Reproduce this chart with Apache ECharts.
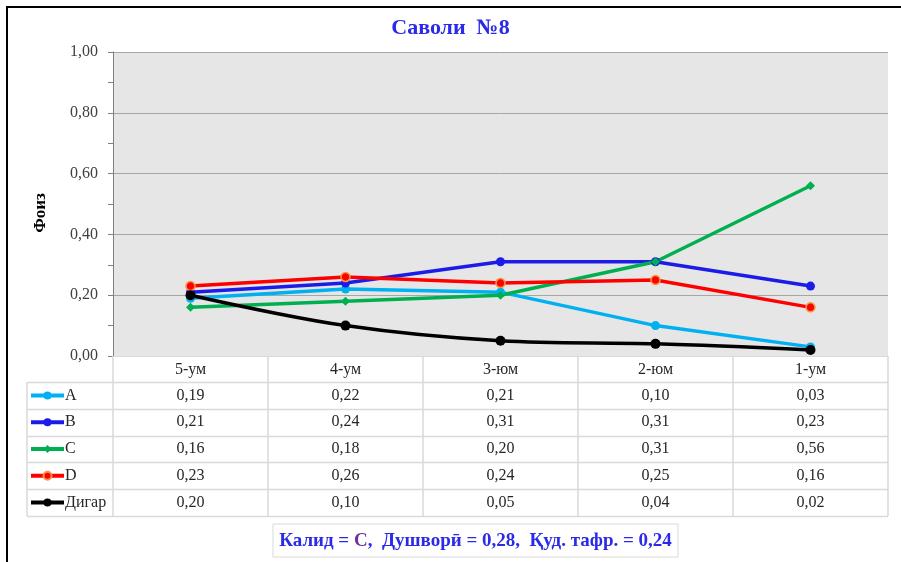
<!DOCTYPE html>
<html lang="tg">
<head>
<meta charset="UTF-8" />
<title>Саволи №8</title>
<style>
  * { margin: 0; padding: 0; box-sizing: border-box; }
  html, body { background: #fff; }
  #chart { width: 901px; height: 562px; }
</style>
</head>
<body>
<div id="chart"></div>
<script src="https://cdn.jsdelivr.net/npm/echarts@6/dist/echarts.min.js"></script>
<script>
// данные
var categories = ['5-ум', '4-ум', '3-юм', '2-юм', '1-ум'];
var seriesNames = ['A', 'B', 'C', 'D', 'Дигар'];
var valuesA = [0.19, 0.22, 0.21, 0.10, 0.03];
var valuesB = [0.21, 0.24, 0.31, 0.31, 0.23];
var valuesC = [0.16, 0.18, 0.20, 0.31, 0.56];
var valuesD = [0.23, 0.26, 0.24, 0.25, 0.16];
var valuesOther = [0.20, 0.10, 0.05, 0.04, 0.02];
var yTicks = [0, 0.2, 0.4, 0.6, 0.8, 1.0];
var keyAnswer = 'C';
var difficulty = 0.28;
var discrimination = 0.24;

var allValues = [valuesA, valuesB, valuesC, valuesD, valuesOther];
var colors = ['#00b0f0', '#1c1ce8', '#00b050', '#ff0000', '#000000'];
var symbols = ['circle', 'circle', 'diamond', 'circle', 'circle'];
var font = '"Liberation Serif", "DejaVu Serif", serif';
var blue = '#2a2ae8';

function fmt(v) {
  return v.toFixed(2).replace('.', ',');
}

var plotLeft = 113, plotRight = 888, plotTop = 52, plotBottom = 356;
var rowH = 26.8;
var headRow = 382; // верх первой строки таблицы
var tableLeft = 27;

var chart = echarts.init(document.getElementById('chart'));

var series = seriesNames.map(function (name, i) {
  var s = {
    name: name,
    type: 'line',
    data: allValues[i],
    symbol: symbols[i],
    symbolSize: i === 4 ? 10 : (i === 2 ? 9 : 9),
    lineStyle: { color: colors[i], width: 3.5 },
    itemStyle: { color: colors[i] },
    emphasis: { disabled: true },
    animation: false
  };
  if (i === 3) {
    s.itemStyle = { color: '#ff0000', borderColor: '#f79646', borderWidth: 1.5 };
  }
  if (i === 4) s.smooth = 0.35;
  return s;
});

var legends = seriesNames.map(function (name, i) {
  return {
    data: [name],
    orient: 'vertical',
    left: 29,
    top: headRow + i * rowH + rowH / 2 - 8,
    padding: 0,
    itemWidth: 33,
    itemHeight: 10,
    itemGap: 2,
    selectedMode: false,
    lineStyle: { width: 4 },
    textStyle: { fontFamily: font, fontSize: 16, color: '#262626', padding: [0, 0, 0, -4] }
  };
});

chart.setOption({
  animation: false,
  title: {
    text: 'Саволи  №8',
    left: 'center',
    top: 12,
    textStyle: { fontFamily: font, fontSize: 22, fontWeight: 'bold', color: blue }
  },
  legend: legends,
  grid: {
    left: plotLeft,
    right: 901 - plotRight,
    top: plotTop,
    bottom: 562 - plotBottom,
    show: true,
    backgroundColor: '#e6e6e6',
    borderWidth: 0
  },
  xAxis: {
    type: 'category',
    data: categories,
    boundaryGap: true,
    axisLine: { show: true, lineStyle: { color: '#d9d9d9', width: 1 } },
    axisTick: { show: true, length: headRow + rowH * 5 - plotBottom, lineStyle: { color: '#d9d9d9', width: 1.5 } },
    axisLabel: { margin: 6, fontFamily: font, fontSize: 16, color: '#262626' }
  },
  yAxis: {
    type: 'value',
    min: yTicks[0],
    max: yTicks[yTicks.length - 1],
    interval: 0.2,
    axisLine: { show: true, lineStyle: { color: '#7f7f7f', width: 1 } },
    axisTick: { show: true, length: 5, lineStyle: { color: '#7f7f7f' } },
    minorTick: { show: true, splitNumber: 2, length: 5, lineStyle: { color: '#7f7f7f' } },
    splitLine: { show: true, lineStyle: { color: '#a6a6a6', width: 1 } },
    axisLabel: {
      margin: 15,
      fontFamily: font,
      fontSize: 16,
      color: '#404040',
      formatter: function (v) { return fmt(v); }
    }
  },
  series: series
});

// таблица данных под графиком
var g = [];
g.push({
  type: 'rect',
  shape: { x: 7, y: 7, width: 1000, height: 1000 },
  style: { fill: 'none', stroke: '#000', lineWidth: 2 },
  silent: true
});
for (var r = 0; r <= seriesNames.length; r++) {
  var y = Math.round(headRow + r * rowH) + 0.5;
  g.push({
    type: 'line',
    shape: { x1: tableLeft, y1: y, x2: plotRight, y2: y },
    style: { stroke: '#d9d9d9', lineWidth: 1.5 },
    silent: true
  });
}
g.push({
  type: 'line',
  shape: { x1: tableLeft, y1: headRow, x2: tableLeft, y2: headRow + rowH * 5 },
  style: { stroke: '#d9d9d9', lineWidth: 1.5 },
  silent: true
});
allValues.forEach(function (vals, i) {
  vals.forEach(function (v, j) {
    var x = chart.convertToPixel({ xAxisIndex: 0 }, categories[j]);
    g.push({
      type: 'text',
      x: x,
      y: headRow + i * rowH + rowH / 2,
      style: {
        text: fmt(v),
        fontFamily: font,
        fontSize: 16,
        fill: '#262626',
        align: 'center',
        verticalAlign: 'middle'
      },
      silent: true
    });
  });
});
// подпись оси
g.push({
  type: 'text',
  x: 41,
  y: 213,
  rotation: Math.PI / 2,
  style: {
    text: 'Фоиз',
    fontFamily: font,
    fontSize: 17,
    fontWeight: 'bold',
    fill: '#000',
    align: 'center',
    verticalAlign: 'middle'
  },
  silent: true
});
// итоговая строка
g.push({
  type: 'rect',
  shape: { x: 273, y: 524, width: 405, height: 33 },
  style: { fill: '#fff', stroke: '#d9d9d9', lineWidth: 1 },
  silent: true
});
g.push({
  type: 'text',
  x: 475.5,
  y: 541,
  style: {
    text: '{b|Калид = }{p|' + keyAnswer + '}{b|,  Душворӣ = ' + fmt(difficulty) + ',  Қуд. тафр. = ' + fmt(discrimination) + '}',
    align: 'center',
    verticalAlign: 'middle',
    rich: {
      b: { fontFamily: font, fontSize: 19, fontWeight: 'bold', fill: blue, color: blue },
      p: { fontFamily: font, fontSize: 19, fontWeight: 'bold', fill: '#7030a0', color: '#7030a0' }
    }
  },
  silent: true
});
chart.setOption({ graphic: g });
</script>
</body>
</html>
